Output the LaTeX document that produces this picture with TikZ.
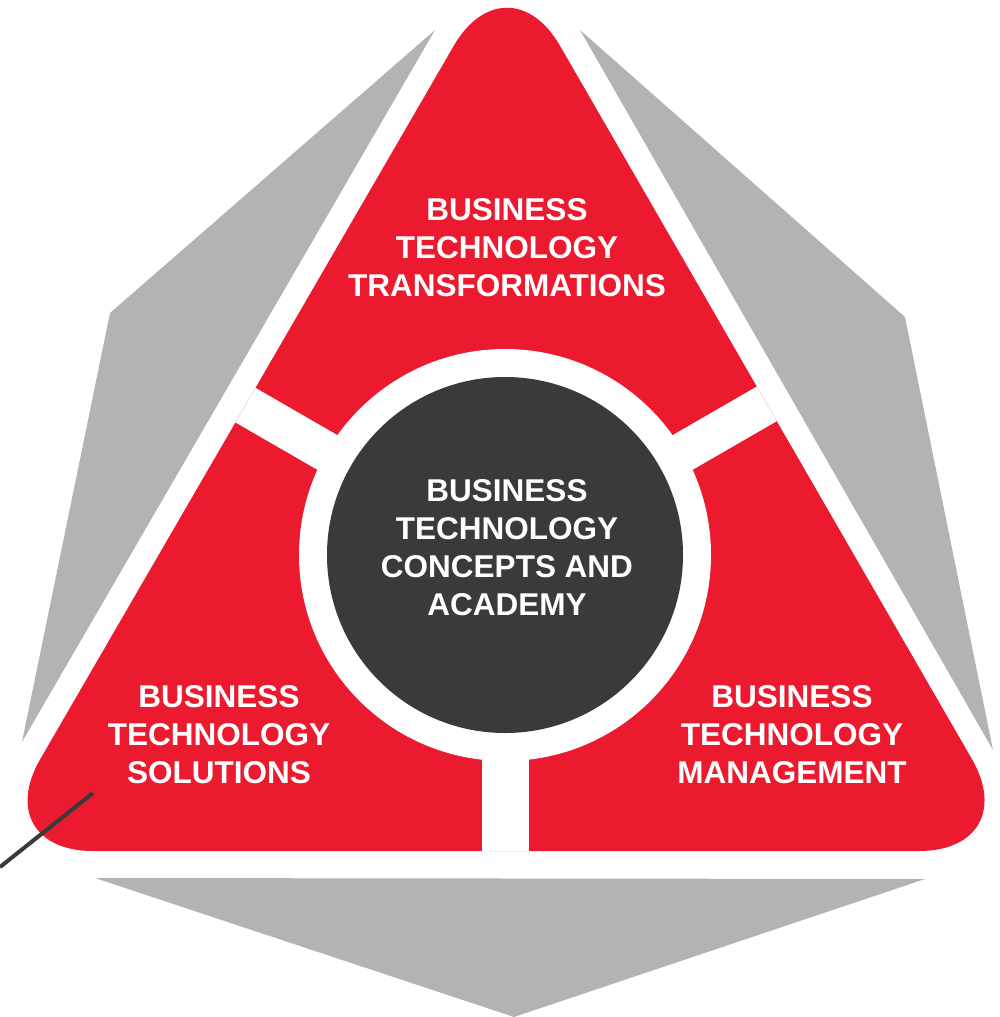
\documentclass[tikz,border=0pt]{standalone}
\usepackage{fontspec}
\setmainfont{Liberation Sans}
\definecolor{brandred}{HTML}{EB1A2F}
\definecolor{greyshape}{HTML}{B3B3B3}
\definecolor{darkcore}{HTML}{3A3A3A}
\begin{document}
\begin{tikzpicture}[x=1pt,y=-1pt,
  graypiece/.style={fill=greyshape,draw=none},
  redtri/.style={rounded corners=106pt},
  gapband/.style={draw=white,line cap=butt},
  lbl/.style={text=white,font=\bfseries\fontsize{31.5}{38}\selectfont,align=center,inner sep=0pt}]
\useasboundingbox (0,0) rectangle (1000,1017);
% gray background pieces
\fill[graypiece] (435,30) -- (110,313) -- (22,742) -- cycle;
\fill[graypiece] (580,30) -- (905,317) -- (993,750) -- cycle;
\fill[graypiece] (95,878) -- (925,879) -- (514,1017) -- cycle;
% red rounded triangle
\fill[brandred,redtri] (506,851) -- (1025,851) -- (507,-46) -- (-13,851) -- cycle;
\coordinate (c) at (505,555);
\begin{scope}
  \clip[redtri] (506,851) -- (1025,851) -- (507,-46) -- (-13,851) -- cycle;
  \draw[gapband,line width=47pt] (c) -- ++(0,420);
  \draw[gapband,line width=40pt] (c) -- ++(210:520);
  \draw[gapband,line width=40pt] (c) -- ++(330:520);
\end{scope}
\node[circle,fill=white,minimum size=412pt,inner sep=0pt] (ring) at (c) {};
\node[circle,fill=darkcore,minimum size=356pt,inner sep=0pt] (core) at (c) {};
% labels
\node[lbl] (top) at (507,248) {BUSINESS\\TECHNOLOGY\\TRANSFORMATIONS};
\node[lbl] (mid) at (507,548) {BUSINESS\\TECHNOLOGY\\CONCEPTS AND\\ACADEMY};
\node[lbl] (left) at (219,735) {BUSINESS\\TECHNOLOGY\\SOLUTIONS};
\node[lbl] (right) at (792,735) {BUSINESS\\TECHNOLOGY\\MANAGEMENT};
% pointer line
\coordinate (lineA) at (0,867);
\coordinate (lineB) at (93,793);
\draw[darkcore,line width=4pt] (lineA) -- (lineB);
\end{tikzpicture}
\end{document}
